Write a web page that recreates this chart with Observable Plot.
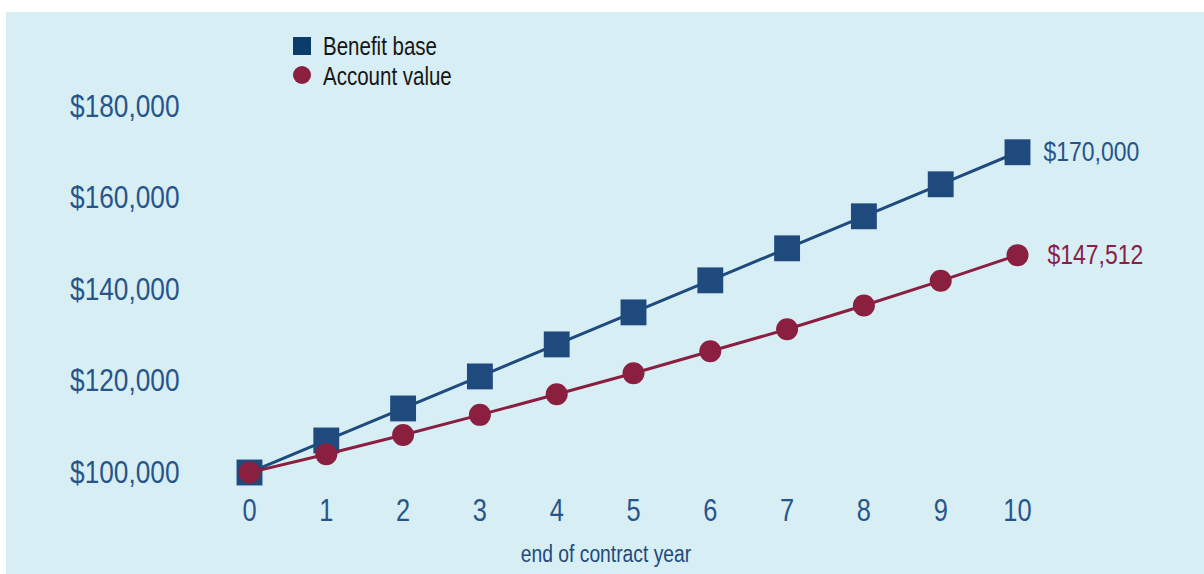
<!DOCTYPE html>
<html>
<head>
<meta charset="utf-8">
<script src="https://cdn.jsdelivr.net/npm/d3@7"></script>
<script src="https://cdn.jsdelivr.net/npm/@observablehq/plot@0.6"></script>
<style>
  html, body { margin: 0; padding: 0; background: #ffffff; }
  body { width: 1204px; height: 574px; overflow: hidden; position: relative; }
  #panel { position: absolute; left: 6px; top: 12px; width: 1198px; height: 562px; background: #d8eef5; }
  #chart { position: absolute; left: 0; top: 0; }
  .lg { position: absolute; font-family: "Liberation Sans", Arial, sans-serif; font-size: 25px; line-height: 25px; color: #161616; white-space: nowrap; transform: scaleX(0.82); transform-origin: 0 0; }
  .sw { position: absolute; }
  #xtitle { position: absolute; left: 600px; top: 531px; font-family: "Liberation Sans", Arial, sans-serif; font-size: 23.5px; line-height: 23px; color: #1f4a7a; white-space: nowrap; transform: translateX(-50%) scaleX(0.82); transform-origin: 50% 0; }
</style>
</head>
<body>
<div id="panel">
  <div id="chart"></div>
  <div class="sw" style="left:287px;top:25px;width:18px;height:18px;background:#0c3c6a;"></div>
  <div class="lg" style="left:317px;top:22px;">Benefit base</div>
  <div class="sw" style="left:287px;top:54px;width:18px;height:18px;border-radius:50%;background:#8a1f40;"></div>
  <div class="lg" style="left:317px;top:52px;">Account value</div>
  <div id="xtitle">end of contract year</div>
</div>
<script>
const years = [0, 1, 2, 3, 4, 5, 6, 7, 8, 9, 10];
const benefitBase = [100000, 107000, 114000, 121000, 128000, 135000, 142000, 149000, 156000, 163000, 170000];
const accountValue = [100000, 104000, 108200, 112600, 117100, 121700, 126500, 131300, 136500, 141900, 147512];
const yTicks = [100000, 120000, 140000, 160000, 180000];

const blue = "#1f4a7e";
const maroon = "#8a1f40";

const bb = years.map((x, i) => ({x, y: benefitBase[i]}));
const av = years.map((x, i) => ({x, y: accountValue[i]}));
const fmt = d3.format("$,");

const chart = Plot.plot({
  width: 1198,
  height: 562,
  marginLeft: 243,
  marginRight: 187,
  marginTop: 94,
  marginBottom: 102,
  style: {background: "transparent", fontFamily: "'Liberation Sans', Arial, sans-serif", fontSize: "31px", color: "#27558a"},
  x: {domain: [0, 10]},
  y: {domain: [100000, 180000]},
  marks: [
    Plot.axisX({ticks: years, tickSize: 0, tickPadding: 26, tickFormat: d => String(d), label: null, fontSize: 31, fill: "#27558a"}),
    Plot.axisY({ticks: yTicks, tickSize: 0, tickPadding: 70, tickFormat: fmt, label: null, fontSize: 32, fill: "#27558a"}),
    Plot.line(bb, {x: "x", y: "y", stroke: blue, strokeWidth: 3}),
    Plot.dot(bb, {x: "x", y: "y", symbol: "square", r: 14.6, fill: blue, stroke: "none"}),
    Plot.line(av, {x: "x", y: "y", stroke: maroon, strokeWidth: 3}),
    Plot.dot(av, {x: "x", y: "y", symbol: "circle", r: 11, fill: maroon, stroke: "none"}),
    Plot.text([bb[bb.length - 1]], {x: "x", y: "y", text: d => fmt(d.y), dx: 26, textAnchor: "start", fill: "#27558a", fontSize: 28}),
    Plot.text([av[av.length - 1]], {x: "x", y: "y", text: d => fmt(d.y), dx: 30, textAnchor: "start", fill: "#8b2045", fontSize: 28})
  ]
});
document.getElementById("chart").appendChild(chart);
// condense the glyphs (emulates a narrow face of the same family)
chart.querySelectorAll("text").forEach(t => {
  const L = t.getComputedTextLength();
  if (L > 0) {
    t.setAttribute("textLength", (L * 0.82).toFixed(2));
    t.setAttribute("lengthAdjust", "spacingAndGlyphs");
  }
});
</script>
</body>
</html>
